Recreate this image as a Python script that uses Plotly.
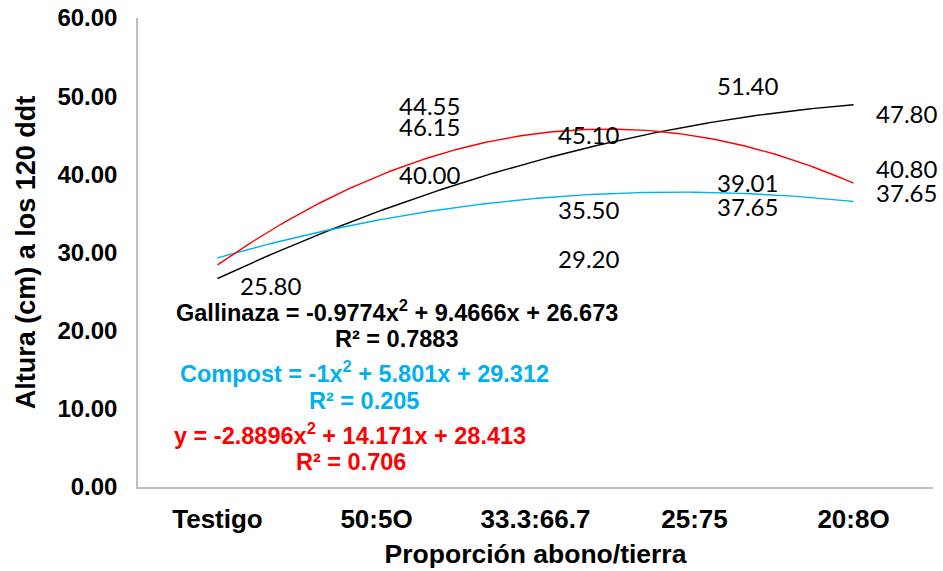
import numpy as np
import plotly.graph_objects as go

# Categories on the x axis (mixture of manure and soil)
categories = ["Testigo", "50:5O", "33.3:66.7", "25:75", "20:8O"]

# Plant height (cm) at 120 days after transplant
gallinaza = [25.80, 40.00, 35.50, 51.40, 47.80]
compost = [25.80, 44.55, 29.20, 37.65, 37.65]
mezcla = [25.80, 46.15, 45.10, 39.01, 40.80]

# Second-order trendline coefficients (a, b, c) for a*x^2 + b*x + c, x = category index
coef_gallinaza = (-0.9774, 9.4666, 26.673)
coef_compost = (-1.0, 5.801, 29.312)
coef_mezcla = (-2.8896, 14.171, 28.413)

r2_gallinaza = 0.7883
r2_compost = 0.205
r2_mezcla = 0.706

y_ticks = [0, 10, 20, 30, 40, 50, 60]

BLACK = "#000000"
BLUE = "#00B0F0"
RED = "#FF0000"
AXIS_GRAY = "#BFBFBF"

# Label placement: right of each point, slightly below centre, with a few
# labels nudged apart (axis units)
LABEL_DX = 0.335
LABEL_DY = -0.45
label_nudge = {
    "compost": [0, 4.3, 0, -1.8, 0],
}
# the shared control value is labelled only once
label_skip = {"compost": [0], "mezcla": [0]}

fig = go.Figure()

x_idx = np.arange(len(categories))
xs = np.linspace(x_idx[0], x_idx[-1], 200)


def trend(coef, x):
    a, b, c = coef
    return a * x ** 2 + b * x + c


for coef, color in [(coef_gallinaza, BLACK), (coef_compost, BLUE), (coef_mezcla, RED)]:
    fig.add_trace(go.Scatter(
        x=xs, y=trend(coef, xs), mode="lines",
        line=dict(color=color, width=1.4), hoverinfo="skip", showlegend=False,
    ))

label_font = dict(family="Lato, Carlito, Calibri, sans-serif", size=24, color="#000000")
for key, vals in [("gallinaza", gallinaza), ("compost", compost), ("mezcla", mezcla)]:
    nudge = label_nudge.get(key, [0] * len(vals))
    skip = label_skip.get(key, [])
    lx, ly, lt = [], [], []
    for i, v in enumerate(vals):
        if i in skip:
            continue
        lx.append(x_idx[i] + LABEL_DX)
        ly.append(v + nudge[i] + LABEL_DY)
        lt.append(f"{v:.2f}")
    fig.add_trace(go.Scatter(
        x=lx, y=ly, text=lt, mode="text", textposition="middle center",
        textfont=label_font, hoverinfo="skip", showlegend=False,
        cliponaxis=False,
    ))

# Trendline equations: (text lines, colour, [(x, y) per line])
eq_font = dict(family="Liberation Sans, Arial, sans-serif", size=23.5, weight="bold")
equations = [
    ("Gallinaza", coef_gallinaza, r2_gallinaza, BLACK, [(1.129, 22.55), (1.123, 18.98)]),
    ("Compost", coef_compost, r2_compost, BLUE, [(0.925, 14.75), (0.921, 11.05)]),
    ("y", coef_mezcla, r2_mezcla, RED, [(0.833, 6.83), (0.840, 3.26)]),
]
for name, (a, b, c), r2, color, pos in equations:
    lines = [f"{name} = {a:g}x<sup>2</sup> + {b:g}x + {c:g}", f"R² = {r2:g}"]
    for text, (ax, ay) in zip(lines, pos):
        fig.add_annotation(
            x=ax, y=ay, xref="x", yref="y", text=text,
            showarrow=False, xanchor="center", yanchor="middle",
            font=dict(color=color, **eq_font),
        )

axis_font = "Liberation Sans, Arial, sans-serif"
fig.update_layout(
    width=943, height=571,
    margin=dict(l=138, r=10, t=18, b=84),
    paper_bgcolor="white", plot_bgcolor="white",
    showlegend=False,
    xaxis=dict(
        range=[-0.5, 4.5], tickvals=list(x_idx), ticktext=categories,
        showline=True, linecolor=AXIS_GRAY, linewidth=1.5, mirror=False,
        showgrid=False, zeroline=False, ticks="", ticklabelstandoff=8,
        automargin=False,
        tickfont=dict(family=axis_font, size=26, color="#000000", weight="bold"),
        title=dict(text="Proporción abono/tierra", standoff=11,
                   font=dict(family=axis_font, size=26.5, color="#000000", weight="bold")),
    ),
    yaxis=dict(
        range=[0, 60], tickvals=y_ticks, tickformat=".2f",
        showline=True, linecolor=AXIS_GRAY, linewidth=1.5,
        showgrid=False, zeroline=False, ticks="", ticklabelstandoff=14,
        automargin=False,
        tickfont=dict(family=axis_font, size=24, color="#000000", weight="bold"),
        title=dict(text="Altura (cm) a los 120 ddt", standoff=14,
                   font=dict(family=axis_font, size=27, color="#000000", weight="bold")),
    ),
)

fig.write_html("out.html")
